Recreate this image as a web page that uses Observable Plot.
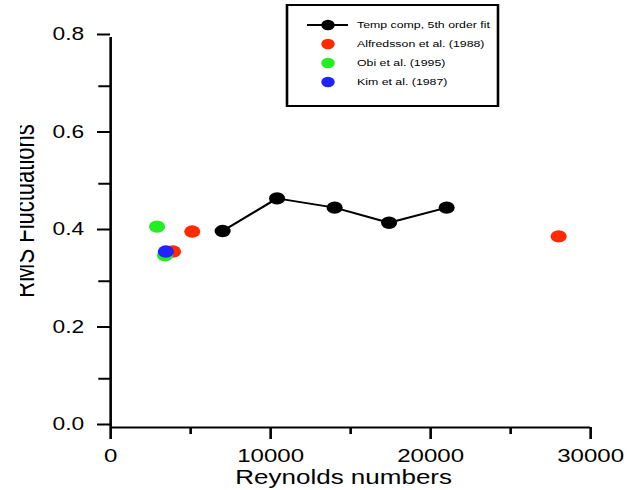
<!DOCTYPE html>
<html>
<head>
<meta charset="utf-8">
<script src="https://cdn.jsdelivr.net/npm/d3@7"></script>
<script src="https://cdn.jsdelivr.net/npm/@observablehq/plot@0.6"></script>
<style>
  html, body { margin: 0; padding: 0; background: #fff; }
  #wrap { position: relative; width: 632px; height: 490px; overflow: hidden; background: #fff; }
  #clip { position: absolute; left: 0; top: 0; width: 20px; height: 490px; background: #fff; }
</style>
</head>
<body>
<div id="wrap"></div>
<script>
// ---- data ----
const fitRe  = [7000, 10400, 14000, 17400, 21000];
const fitRms = [0.403, 0.47, 0.451, 0.42, 0.451];
const alfRe  = [5100, 3900, 28000];
const alfRms = [0.402, 0.361, 0.392];
const obiRe  = [2900, 3400];
const obiRms = [0.412, 0.353];
const kimRe  = [3450];
const kimRms = [0.361];
const seriesNames = ["Temp comp, 5th order fit", "Alfredsson et al. (1988)", "Obi et al. (1995)", "Kim et al. (1987)"];
const seriesColors = ["#000000", "#ff2a00", "#22ee22", "#2222ff"];
const xTicks = [0, 10000, 20000, 30000];
const xMinor = [5000, 15000, 25000];
const yTicks = [0, 0.2, 0.4, 0.6, 0.8];
const yMinor = [0.1, 0.3, 0.5, 0.7];
const xLabel = "Reynolds numbers";
const yLabel = "RMS Fluctuations";

const toRows = (xs, ys, s) => xs.map((x, i) => ({re: x, rms: ys[i], series: s}));
const fit = toRows(fitRe, fitRms, seriesNames[0]);
const alf = toRows(alfRe, alfRms, seriesNames[1]);
const obi = toRows(obiRe, obiRms, seriesNames[2]);
const kim = toRows(kimRe, kimRms, seriesNames[3]);

// The reference is horizontally stretched; draw at base width then stretch.
const SX = 1.3;
const W = 632, H = 490;
const BW = W / SX;

const font = "'Liberation Sans', Arial, Helvetica, sans-serif";

const plot = Plot.plot({
  width: BW,
  height: H,
  marginLeft: 110 / SX,
  marginRight: (W - 590) / SX,
  marginTop: 37,
  marginBottom: H - 427,
  style: {fontFamily: font, background: "#fff", color: "#000", overflow: "visible"},
  x: {domain: [0, 30000]},
  y: {domain: [0, 0.8]},
  color: {domain: seriesNames, range: seriesColors},
  marks: [
    Plot.ruleY([0], {stroke: "#000", strokeWidth: 2}),
    Plot.ruleX([0], {stroke: "#000", strokeWidth: 2}),
    Plot.axisX({ticks: xTicks, tickSize: 12, tickPadding: 9, strokeWidth: 2, fontSize: 18.5,
      tickFormat: d => String(d), label: null}),
    Plot.axisX({ticks: xMinor, tickSize: 7, strokeWidth: 2, fill: "none", tickFormat: () => "", label: null}),
    Plot.axisY({ticks: yTicks, tickSize: 10, tickPadding: 10.4, strokeWidth: 2, fontSize: 17.5, dy: -3,
      tickFormat: d3.format(".1f"), label: null}),
    Plot.axisY({ticks: yMinor, tickSize: 9, strokeWidth: 2, fill: "none", tickFormat: () => "", label: null}),
    Plot.text([xLabel], {frameAnchor: "bottom", lineAnchor: "bottom", dy: 56, dx: -5.4, fontSize: 20,
      text: d => d, fill: "#000"}),
    Plot.line(fit, {x: "re", y: "rms", stroke: "series", strokeWidth: 2}),
    Plot.dot(fit, {x: "re", y: "rms", fill: "series", r: 6.2}),
    Plot.dot(alf, {x: "re", y: "rms", fill: "series", r: 6.2}),
    Plot.dot(obi, {x: "re", y: "rms", fill: "series", r: 6.2}),
    Plot.dot(kim, {x: "re", y: "rms", fill: "series", r: 6.2})
  ]
});

const svg = d3.select(plot);

// y-axis title (rotated)
svg.append("text")
  .attr("transform", `translate(${34 / SX},211) rotate(-90)`)
  .attr("text-anchor", "middle")
  .attr("font-family", font).attr("font-size", 22).attr("fill", "#000")
  .text(yLabel);

// Legend box inside the plot
const lg = svg.append("g").attr("font-family", font).attr("font-size", 9.5).attr("text-anchor", "start");
lg.append("rect")
  .attr("x", 287 / SX).attr("y", 5).attr("width", (498 - 287) / SX).attr("height", 101)
  .attr("fill", "#fff").attr("stroke", "#000").attr("stroke-width", 2);
const rowY = [25, 44, 63, 82];
seriesNames.forEach((name, i) => {
  const g = lg.append("g").attr("transform", `translate(0,${rowY[i]})`);
  if (i === 0) {
    g.append("line").attr("x1", 307 / SX).attr("x2", 348 / SX).attr("y1", 0).attr("y2", 0)
      .attr("stroke", "#000").attr("stroke-width", 2);
  }
  g.append("circle").attr("cx", 328 / SX).attr("cy", 0).attr("r", 5.2).attr("fill", seriesColors[i]);
  g.append("text").attr("x", 357 / SX).attr("y", 0).attr("dy", "0.35em").attr("fill", "#000")
    .attr("text-anchor", "start").text(name);
});

plot.setAttribute("width", W);
plot.setAttribute("height", H);
plot.setAttribute("preserveAspectRatio", "none");
plot.style.width = W + "px";
plot.style.height = H + "px";
plot.style.maxWidth = "none";

const wrap = document.getElementById("wrap");
wrap.appendChild(plot);
const clip = document.createElement("div");
clip.id = "clip";
wrap.appendChild(clip);
</script>
</body>
</html>
